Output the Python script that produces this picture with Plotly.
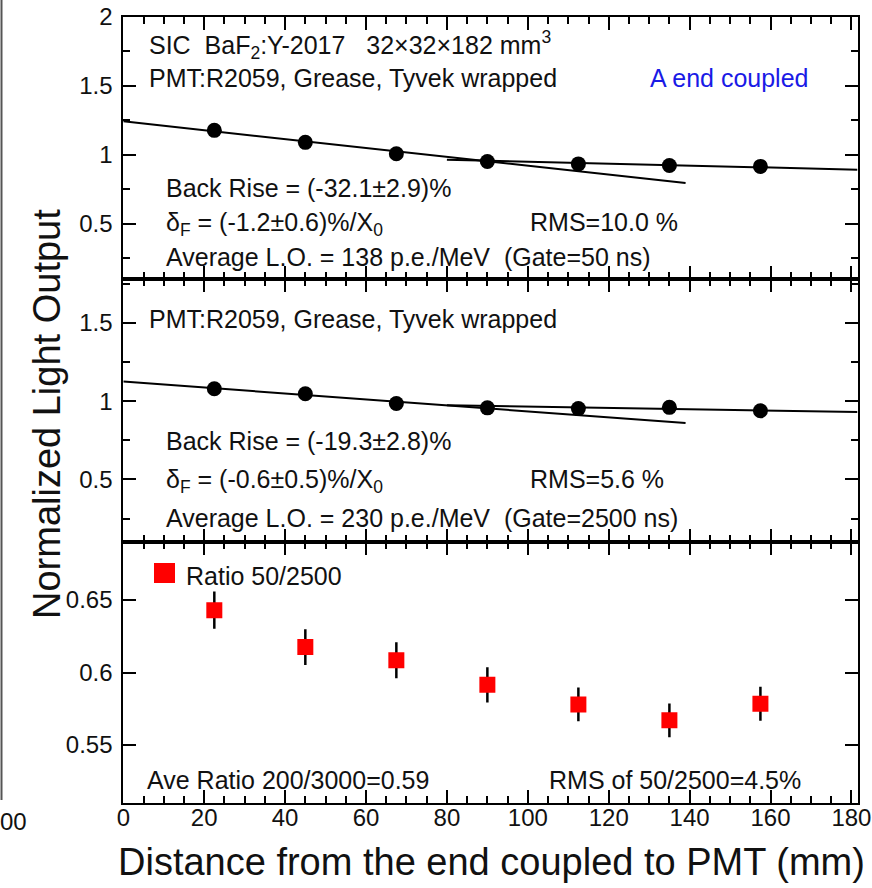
import plotly.graph_objects as go

W, H = 872, 888

# ---------------- data ----------------
positions = [22.5, 45, 67.5, 90, 112.5, 135, 157.5]           # mm from coupled end
lo_gate50 = [1.176, 1.089, 1.007, 0.951, 0.933, 0.922, 0.915]  # top panel
lo_gate2500 = [1.079, 1.047, 0.985, 0.957, 0.952, 0.960, 0.938]  # middle panel
ratio = [0.643, 0.6175, 0.6085, 0.5915, 0.578, 0.567, 0.5785]  # bottom panel
ratio_err = [0.0128, 0.0123, 0.0124, 0.0122, 0.0117, 0.0116, 0.0117]

fit_front_x = [0, 139]
fit_back_x = [80, 181.5]
fit50_front_y = [1.241, 0.795]
fit50_back_y = [0.964, 0.891]
fit2500_front_y = [1.125, 0.860]
fit2500_back_y = [0.973, 0.930]

x_ticks = [0, 20, 40, 60, 80, 100, 120, 140, 160, 180]
y_ticks_lo = [0.5, 1, 1.5, 2]
y_ticks_ratio = [0.55, 0.6, 0.65]

FONT = "Liberation Sans, Arial, sans-serif"
TXT = "#111111"


def px(x):
    return x / W


def py(y):
    return 1 - y / H


fig = go.Figure()

# top panel
fig.add_trace(go.Scatter(x=fit_front_x, y=fit50_front_y, mode="lines",
                         line=dict(color="black", width=2), xaxis="x", yaxis="y", showlegend=False))
fig.add_trace(go.Scatter(x=fit_back_x, y=fit50_back_y, mode="lines",
                         line=dict(color="black", width=2), xaxis="x", yaxis="y", showlegend=False))
fig.add_trace(go.Scatter(x=positions, y=lo_gate50, mode="markers",
                         marker=dict(color="black", size=15, symbol="circle"),
                         xaxis="x", yaxis="y", showlegend=False))
# middle panel
fig.add_trace(go.Scatter(x=fit_front_x, y=fit2500_front_y, mode="lines",
                         line=dict(color="black", width=2), xaxis="x2", yaxis="y2", showlegend=False))
fig.add_trace(go.Scatter(x=fit_back_x, y=fit2500_back_y, mode="lines",
                         line=dict(color="black", width=2), xaxis="x2", yaxis="y2", showlegend=False))
fig.add_trace(go.Scatter(x=positions, y=lo_gate2500, mode="markers",
                         marker=dict(color="black", size=15, symbol="circle"),
                         xaxis="x2", yaxis="y2", showlegend=False))
# bottom panel
fig.add_trace(go.Scatter(x=positions, y=ratio, mode="markers",
                         marker=dict(color="#ff0000", size=16, symbol="square"),
                         error_y=dict(type="data", array=ratio_err, color="black", thickness=2.5, width=0),
                         xaxis="x3", yaxis="y3", showlegend=False))

xdom = [px(123.3), px(857.5)]
top_dom = [py(279), py(16.5)]
mid_dom = [py(542), py(279)]
bot_dom = [py(803), py(542)]

common_axis = dict(showline=True, linecolor="black", linewidth=2, mirror="allticks",
                   ticks="inside", ticklen=13, tickwidth=2, tickcolor="black",
                   showgrid=False, zeroline=False, automargin=False,
                   tickfont=dict(family=FONT, size=24, color=TXT))


def xaxis(anchor, labels):
    d = dict(common_axis)
    d.update(domain=xdom, range=[0, 181.5], anchor=anchor, tickmode="array", tickvals=x_ticks,
             showticklabels=labels, ticklabelstandoff=-8,
             minor=dict(dtick=5, tick0=0, ticks="inside", ticklen=7, tickwidth=2, tickcolor="black"))
    return d


def yaxis(anchor, dom, rng, vals, minor):
    d = dict(common_axis)
    d.update(domain=dom, range=rng, anchor=anchor, tickmode="array", tickvals=vals,
             ticktext=[("%g" % v) for v in vals], ticklabelstandoff=4)
    if minor:
        d["minor"] = dict(dtick=0.25, tick0=0, ticks="inside", ticklen=7, tickwidth=2, tickcolor="black")
    return d


annotations = []


def note(x, y, text, size=25, color=TXT, xanchor="left"):
    annotations.append(dict(x=px(x), y=py(y), xref="paper", yref="paper", text=text,
                            showarrow=False, xanchor=xanchor, yanchor="middle",
                            font=dict(family=FONT, size=size, color=color)))


nb = "\u00a0"
note(147, 45, "SIC" + nb * 2 + "BaF<sub>2</sub>:Y-2017" + nb * 3 + "32×32×182 mm<sup>3</sup>")
note(147, 78, "PMT:R2059, Grease, Tyvek wrapped")
note(648, 78, "A end coupled", color="#1a1ae6")
note(164, 188, "Back Rise = (-32.1±2.9)%")
note(164, 224, "δ<sub>F</sub> = (-1.2±0.6)%/X<sub>0</sub>")
note(528, 222, "RMS=10.0 %")
note(164, 257, "Average L.O. = 138 p.e./MeV" + nb * 2 + "(Gate=50 ns)")

note(147, 319, "PMT:R2059, Grease, Tyvek wrapped")
note(164, 441, "Back Rise = (-19.3±2.8)%")
note(164, 481, "δ<sub>F</sub> = (-0.6±0.5)%/X<sub>0</sub>")
note(528, 479, "RMS=5.6 %")
note(164, 518, "Average L.O. = 230 p.e./MeV" + nb * 2 + "(Gate=2500 ns)")

note(184, 576, "Ratio 50/2500")
note(145, 780, "Ave Ratio 200/3000=0.59")
note(547, 780, "RMS of 50/2500=4.5%")

# neighbouring-figure remnant at the left edge
note(-2, 821, "00", size=24)

# axis titles
annotations.append(dict(x=px(492), y=py(862), xref="paper", yref="paper",
                        text="Distance from the end coupled to PMT (mm)", showarrow=False,
                        xanchor="center", yanchor="middle",
                        font=dict(family=FONT, size=38, color=TXT)))
annotations.append(dict(x=px(47), y=py(414), xref="paper", yref="paper",
                        text="Normalized Light Output", showarrow=False, textangle=-90,
                        xanchor="center", yanchor="middle",
                        font=dict(family=FONT, size=38, color=TXT)))

shapes = [
    dict(type="rect", xref="paper", yref="paper", x0=px(154), x1=px(175), y0=py(583), y1=py(563),
         fillcolor="#ff0000", line=dict(width=0)),
    dict(type="line", xref="paper", yref="paper", x0=px(1.5), x1=px(1.5), y0=py(0), y1=py(800),
         line=dict(color="#555555", width=2)),
]

fig.update_layout(
    width=W, height=H, margin=dict(l=0, r=0, t=0, b=0, autoexpand=False),
    paper_bgcolor="white", plot_bgcolor="white",
    xaxis=xaxis("y", False),
    yaxis=yaxis("x", top_dom, [0.1, 2.0], y_ticks_lo, True),
    xaxis2=xaxis("y2", False),
    yaxis2=yaxis("x2", mid_dom, [0.1, 1.78], y_ticks_lo[:3], True),
    xaxis3=xaxis("y3", True),
    yaxis3=yaxis("x3", bot_dom, [0.51, 0.69], y_ticks_ratio, False),
    annotations=annotations, shapes=shapes,
)

fig.write_html("out.html")
